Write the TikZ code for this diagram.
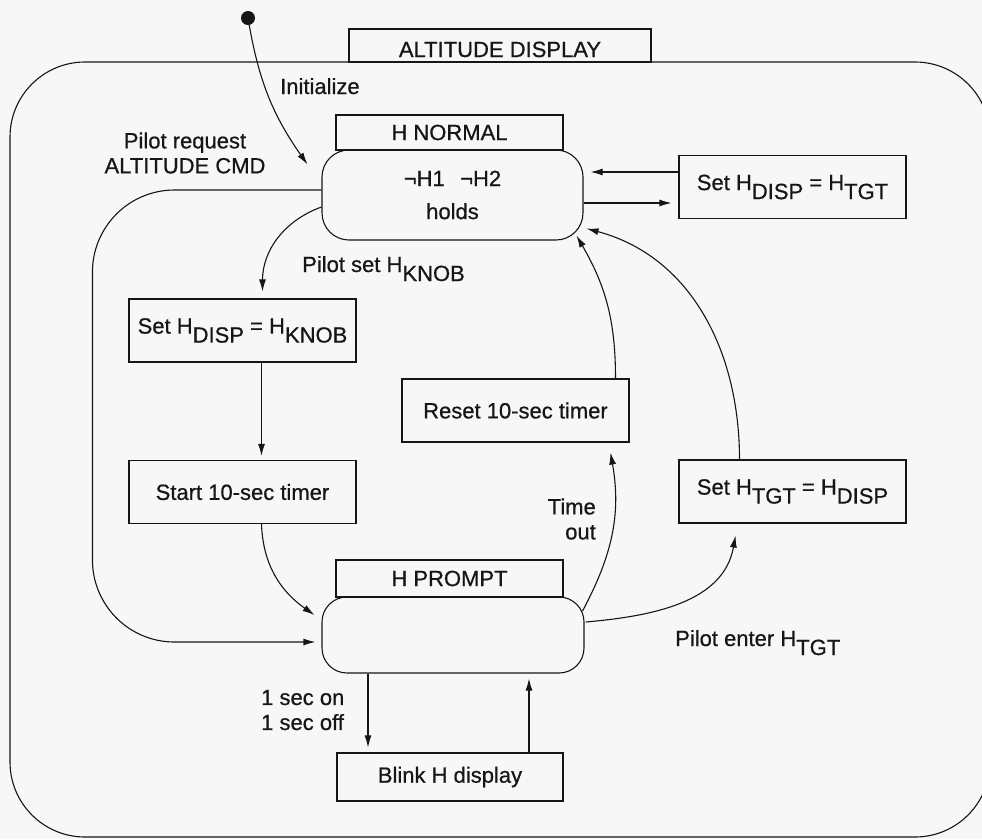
\documentclass[tikz,border=0pt]{standalone}
\usepackage{fontspec}
\setmainfont{Liberation Sans}[FakeBold=0.6]
\usetikzlibrary{arrows.meta,calc}
\definecolor{paper}{RGB}{247,247,247}
\definecolor{ink}{RGB}{22,22,22}
% subscripts are set at full size, dropped below the baseline
\newcommand{\hsub}[1]{\raisebox{-9pt}{#1}}
\begin{document}
\begin{tikzpicture}[x=1pt,y=-1pt,
  every node/.style={font=\fontsize{22}{25}\selectfont, text=ink},
  actbox/.style={draw=ink, line width=1.1pt, minimum width=227pt, minimum height=63pt, inner sep=0pt},
  tabbox/.style={draw=ink, line width=1.1pt, inner sep=0pt},
  statebox/.style={draw=ink, line width=1.1pt, rounded corners=27pt, inner sep=0pt, align=center},
  lbl/.style={inner sep=0pt},
  arr/.style={draw=ink, line width=1.1pt, -{Latex[length=12pt,width=7pt]}},
]
\fill[paper] (0,0) rectangle (982,839);
\useasboundingbox (0,0) rectangle (982,839);
\clip (0,0) rectangle (982,839);

% superstate and its title tab
\node[statebox, rounded corners=75pt, minimum width=980pt, minimum height=775pt] (alt) at (500,449.5) {};
\node[tabbox, minimum width=302pt, minimum height=33pt, text height=23pt, text depth=0pt] (alttab) at (500,45.5) {ALTITUDE DISPLAY};

% initial pseudostate
\node[circle, fill=ink, inner sep=0pt, minimum size=14pt] (init) at (248,18) {};

% H NORMAL state
\node[tabbox, minimum width=227pt, minimum height=35pt] (nrmtab) at (449.5,132.5) {H NORMAL};
\node[statebox, minimum width=261pt, minimum height=90pt] (nrm) at (452.5,195) {¬H1\hspace{0.7em}¬H2\\[8pt]holds};

% H PROMPT state
\node[tabbox, minimum width=227pt, minimum height=37pt] (prmtab) at (449.5,578.5) {H PROMPT};
\node[statebox, rounded corners=25pt, minimum width=262pt, minimum height=76pt] (prm) at (453,635) {};

% actions
\node[actbox] (hdt) at (792.5,187) {Set H\hsub{DISP} = H\hsub{TGT}};
\node[actbox] (knob) at (242.5,330.5) {Set H\hsub{DISP} = H\hsub{KNOB}};
\node[actbox] (start) at (242.5,492) {Start 10-sec timer};
\node[actbox] (reset) at (515.5,410.5) {Reset 10-sec timer};
\node[actbox] (tgt) at (792.5,491.5) {Set H\hsub{TGT} = H\hsub{DISP}};
\node[actbox, minimum width=226pt, minimum height=48pt] (blink) at (450,777) {Blink H display};

% transition labels
\node[lbl, anchor=base west] (linit) at (280,94) {Initialize};
\node[lbl, align=center] (lreq) at (185,153) {Pilot request\\ALTITUDE CMD};
\node[lbl, anchor=base west] (lset) at (302,272) {Pilot set H\hsub{KNOB}};
\node[lbl, align=right, anchor=east] (lto) at (596,519) {Time\\out};
\node[lbl, anchor=base west] (lent) at (675,646) {Pilot enter H\hsub{TGT}};
\node[lbl, align=left, anchor=west] (lblink) at (261,710) {1 sec on\\1 sec off};

% transitions
\draw[arr] (init) to[out=-80,in=125] ($(nrm.north west)+(-14,15)$);
\draw[arr, rounded corners=82pt] ($(nrm.west)+(0,-5)$) -- ++(-229,0) -- ++(0,452) -- ($(prm.west)+(-6,7)$);
\draw[arr] ($(nrm.west)+(0,12)$) to[out=200,in=90] ($(knob.north)+(20,-7)$);
\draw[arr] ($(knob.south)+(19,0)$) -- ($(start.north)+(19,-4)$);
\draw[arr] ($(start.south)+(19,0)$) to[out=-88,in=145] ($(prm.west)+(-7,-20)$);
\draw[arr] ($(hdt.west)+(0,-15)$) -- ($(nrm.east)+(7,-23)$);
\draw[arr] ($(nrm.east)+(0,8)$) -- ($(hdt.west)+(-7,16)$);
\draw[arr] ($(prm.east)+(-2,-24)$) to[out=62,in=-80] ($(reset.south)+(95,10)$);
\draw[arr] ($(reset.north)+(100,0)$) to[out=90,in=-60] ($(nrm.south east)+(-7,-5)$);
\draw[arr] ($(prm.east)+(1,-13)$) to[out=5,in=-100] ($(tgt.south)+(-57,12)$);
\draw[arr] ($(tgt.north)+(-53,0)$) to[out=90,in=-15] ($(nrm.south east)+(3,-12)$);
\draw[arr] ($(prm.south)+(-85,0)$) -- ($(blink.north)+(-82,-5)$);
\draw[arr] ($(blink.north)+(79,0)$) -- ($(prm.south)+(76,5)$);
\end{tikzpicture}
\end{document}
